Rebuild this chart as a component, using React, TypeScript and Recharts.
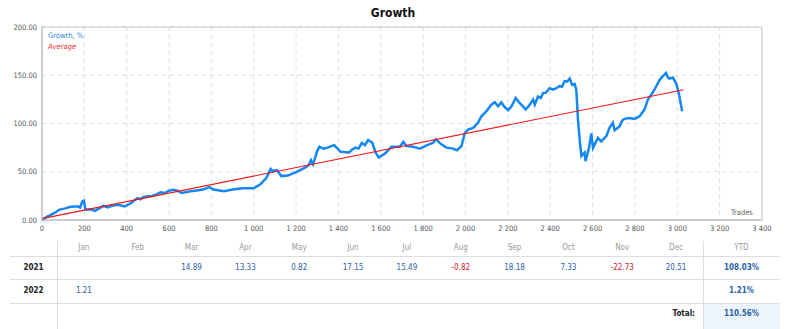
import React from 'react';
import { LineChart, Line, XAxis, YAxis, CartesianGrid, ReferenceArea } from 'recharts';

const trades = [
  0, 20, 35, 50, 65, 80, 110, 130, 150, 170, 180, 190, 198, 205, 230, 250, 270, 290, 310, 330, 360, 390, 420,
  450, 465, 480, 500, 520, 540, 560, 580, 600, 620, 640, 660, 700, 730, 760, 790, 810, 860, 900, 950, 1000, 1030, 1060, 1080, 1090, 1110,
  1130, 1160, 1200, 1240, 1260, 1270, 1280, 1300, 1310, 1330, 1350, 1365, 1380, 1410, 1450, 1465, 1480, 1495, 1510, 1525, 1540, 1560, 1575, 1590, 1620, 1651,
  1690, 1706, 1721, 1753, 1784, 1816, 1847, 1860, 1886, 1910, 1941, 1960, 1981, 1997, 2012, 2036, 2059, 2075, 2099, 2110, 2122,
  2138, 2154, 2169, 2185, 2201, 2217, 2237, 2256, 2270, 2284, 2303, 2319, 2327, 2342, 2355, 2366, 2380, 2397, 2413, 2429, 2445, 2455, 2468, 2480, 2492, 2504, 2515,
  2523, 2531, 2539, 2547, 2562, 2567, 2583, 2594, 2602, 2625, 2641, 2665, 2680, 2696, 2704, 2727, 2740, 2751, 2775, 2798, 2822,
  2845, 2861, 2877, 2892, 2916, 2932, 2947, 2955, 2963, 2979, 2995, 3007, 3023,
];
const growth = [
  0, 3, 4.5, 6.3, 8, 10.5, 12, 13.5, 14, 14, 13, 19, 20, 11, 11, 9.5, 12, 14.7, 13, 14.7, 15.7, 14, 17.5,
  22.7, 21.5, 23.8, 24.5, 25, 26.5, 28.7, 28, 30.4, 31.2, 30.4, 28, 29.7, 30.5, 31.5, 34, 31.5, 29.7, 31.5, 33, 33, 36.7, 43.7, 53, 50.7, 51.7,
  45.5, 46, 49.7, 54, 57, 62, 57.7, 71.7, 76, 74, 75, 76.5, 77.6, 70.6, 70, 73, 75, 74, 80, 77.5, 82.8, 80, 70, 64.7, 69, 76,
  76, 81, 76.7, 76, 74, 77.4, 80, 83.6, 78.4, 75, 74, 72.3, 76.7, 90.4, 93.8, 95.5, 100.7, 107.5, 112.7, 116, 119.5,
  122, 117.8, 122, 117, 113.7, 117.8, 126.4, 121, 118, 114.4, 119.5, 124.7, 119.5, 128, 126.5, 131.5, 132, 136.6, 135, 136.6, 139, 138, 144, 143.5, 146.6, 140, 141,
  135, 104, 83.6, 66.4, 69.9, 61, 74.7, 89.7, 74.7, 85, 81.5, 87, 95.5, 100.7, 93, 97, 103, 104.8, 105.8, 104.8, 107.5,
  114.4, 124.7, 129.8, 135, 145, 149, 152.4, 148, 146.6, 147.6, 141.4, 131.5, 112.7,
];
const averageTrades = [0, 3030];
const averageValues = [1.5, 135];

const xTicks = [0, 200, 400, 600, 800, 1000, 1200, 1400, 1600, 1800, 2000, 2200, 2400, 2600, 2800, 3000, 3200, 3400];
const yTicks = [0, 50, 100, 150, 200];

const months = ['Jan', 'Feb', 'Mar', 'Apr', 'May', 'Jun', 'Jul', 'Aug', 'Sep', 'Oct', 'Nov', 'Dec'];
const years = ['2021', '2022'];
const monthly2021: (number | null)[] = [null, null, 14.89, 13.33, 0.82, 17.15, 15.49, -0.82, 18.18, 7.33, -22.73, 20.51];
const monthly2022: (number | null)[] = [1.21, null, null, null, null, null, null, null, null, null, null, null];
const ytd = ['108.03%', '1.21%'];
const total = '110.56%';

const growthData = trades.map((x, i) => ({ x, y: growth[i] }));
const averageData = averageTrades.map((x, i) => ({ x, y: averageValues[i] }));

const FONT = '"DejaVu Sans Condensed", "DejaVu Sans", sans-serif';
const fmtX = (v: number) => (v >= 1000 ? `${Math.floor(v / 1000)} ${String(v % 1000).padStart(3, '0')}` : String(v));

// table geometry
const tLeft = 10;
const tRight = 780;
const colYear = 57;
const colYtd = 703;
const colW = (colYtd - colYear) / 12;

const abs = (x: number, y: number, extra: React.CSSProperties = {}): React.CSSProperties => ({
  position: 'absolute',
  left: x,
  top: y,
  ...extra,
});

export default function App() {
  const rows = [monthly2021, monthly2022];
  return (
    <div style={{ position: 'absolute', left: 0, top: 0, width: 786, height: 329, fontFamily: FONT, background: '#fff' }}>
      <div style={abs(0, 6, { width: 786, textAlign: 'center', fontSize: 12, fontWeight: 'bold', color: '#111' })}>
        Growth
      </div>
      <div style={abs(0, 0)}>
        <LineChart width={786} height={240} margin={{ top: 27, right: 24, bottom: 0, left: 0 }}>
          <CartesianGrid stroke="#ddd" strokeDasharray="4 4" />
          <ReferenceArea x1={0} x2={3400} y1={0} y2={200} fill="none" stroke="#c8c8c8" strokeWidth={1} />
          <XAxis
            type="number"
            dataKey="x"
            domain={[0, 3400]}
            ticks={xTicks}
            tickFormatter={fmtX}
            tickLine={false}
            axisLine={{ stroke: '#bbb' }}
            tickSize={0}
            tickMargin={6}
            height={20}
            interval={0}
            tick={{ fontSize: 7.5, fill: '#555', fontFamily: FONT }}
            allowDuplicatedCategory={false}
          />
          <YAxis
            type="number"
            domain={[0, 200]}
            ticks={yTicks}
            tickFormatter={(v: number) => v.toFixed(2)}
            tickLine={false}
            axisLine={{ stroke: '#bbb' }}
            tickSize={0}
            tickMargin={5}
            width={42}
            interval={0}
            tick={{ fontSize: 7.5, fill: '#555', fontFamily: FONT }}
          />
          <Line data={growthData} dataKey="y" type="linear" stroke="#1587f2" strokeWidth={2.5} dot={false} isAnimationActive={false} />
          <Line data={averageData} dataKey="y" type="linear" stroke="#f01818" strokeWidth={1.2} dot={false} isAnimationActive={false} />
        </LineChart>
      </div>
      <div style={abs(48, 31, { fontSize: 7.5, color: '#2f86e0' })}>Growth, %</div>
      <div style={abs(48, 42, { fontSize: 7.5, color: '#f03030', fontStyle: 'italic' })}>Average</div>
      <div style={abs(731, 208, { fontSize: 7.5, color: '#666' })}>Trades</div>

      {/* monthly table */}
      <div style={abs(colYear, 241, { width: 1, height: 88, background: '#ddd' })} />
      <div style={abs(colYtd, 241, { width: 1, height: 88, background: '#ddd' })} />
      <div style={abs(colYtd + 1, 304, { width: tRight - colYtd - 1, height: 25, background: '#eef4fb' })} />
      {[256, 279, 303].map((y) => (
        <div key={y} style={abs(tLeft, y, { width: tRight - tLeft, height: 1, background: '#ddd' })} />
      ))}
      {months.map((m, i) => (
        <div key={m} style={abs(colYear + i * colW, 243, { width: colW, textAlign: 'center', fontSize: 8, color: '#999' })}>
          {m}
        </div>
      ))}
      <div style={abs(colYtd, 243, { width: tRight - colYtd, textAlign: 'center', fontSize: 8, color: '#999' })}>YTD</div>
      {rows.map((row, r) => {
        const top = r === 0 ? 263 : 286;
        return (
          <React.Fragment key={years[r]}>
            <div style={abs(tLeft, top, { width: colYear - tLeft, textAlign: 'center', fontSize: 8, color: '#222', fontWeight: 'bold' })}>
              {years[r]}
            </div>
            {row.map((v, i) =>
              v === null ? null : (
                <div
                  key={i}
                  style={abs(colYear + i * colW, top, {
                    width: colW,
                    textAlign: 'center',
                    fontSize: 8,
                    color: v < 0 ? '#d02020' : '#2a62a8',
                  })}
                >
                  {v.toFixed(2)}
                </div>
              )
            )}
            <div style={abs(colYtd, top, { width: tRight - colYtd, textAlign: 'center', fontSize: 8, color: '#2a62a8', fontWeight: 'bold' })}>
              {ytd[r]}
            </div>
          </React.Fragment>
        );
      })}
      <div style={abs(600, 309, { width: 95, textAlign: 'right', fontSize: 8, color: '#222', fontWeight: 'bold' })}>Total:</div>
      <div style={abs(colYtd, 309, { width: tRight - colYtd, textAlign: 'center', fontSize: 8, color: '#2a62a8', fontWeight: 'bold' })}>
        {total}
      </div>
    </div>
  );
}
